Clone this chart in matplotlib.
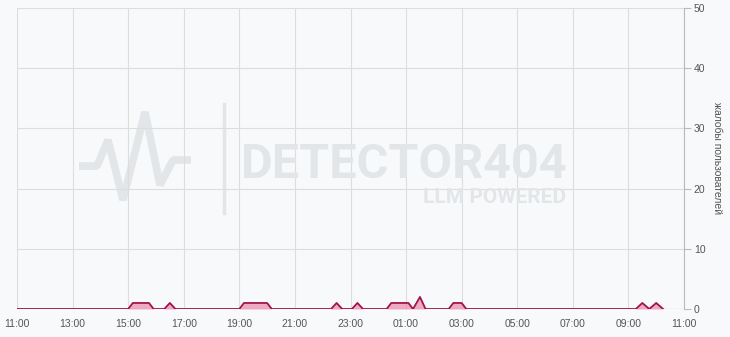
import matplotlib.pyplot as plt
import matplotlib.dates as mdates
from datetime import datetime, timedelta

# жалобы пользователей за последние сутки (время, количество)
times = ["11:00",
         "15:00", "15:10", "15:45", "15:55",
         "16:18", "16:30", "16:42",
         "19:00", "19:10", "20:00", "20:10",
         "22:18", "22:30", "22:42",
         "23:03", "23:15", "23:27",
         "00:18", "00:28", "01:05", "01:15", "01:30", "01:42",
         "02:32", "02:42", "03:00", "03:10",
         "09:16", "09:30", "09:45", "10:00", "10:15"]
counts = [0,
          0, 1, 1, 0,
          0, 1, 0,
          0, 1, 1, 0,
          0, 1, 0,
          0, 1, 0,
          0, 1, 1, 0, 2, 0,
          0, 1, 1, 0,
          0, 1, 0, 1, 0]

y_ticks = [0, 10, 20, 30, 40, 50]
y_label = "жалобы пользователей"

start = datetime(2024, 1, 1, 11, 0)
end = start + timedelta(hours=24)


def to_dt(s):
    h, m = map(int, s.split(":"))
    d = start.replace(hour=h, minute=m)
    if d < start:
        d += timedelta(days=1)
    return d


x = [to_dt(t) for t in times]

bg = "#f8f9fa"
fig = plt.figure(figsize=(7.3, 3.37), dpi=100, facecolor=bg)
ax = fig.add_axes([17 / 730, 1 - 309 / 337, 667 / 730, 301 / 337])
ax.set_facecolor(bg)

# водяной знак
wm = "#e3e6e9"
pulse_x = [79, 97, 108, 123, 145, 160, 173, 191]
pulse_y = [166, 166, 140, 200, 112, 185, 160, 160]
fig.add_artist(plt.Line2D([px / 730 for px in pulse_x], [1 - py / 337 for py in pulse_y],
                          transform=fig.transFigure, color=wm, lw=5.5,
                          solid_joinstyle="bevel", solid_capstyle="butt", zorder=0))
fig.add_artist(plt.Line2D([224 / 730, 224 / 730], [1 - 104 / 337, 1 - 213 / 337],
                          transform=fig.transFigure, color=wm, lw=2.5, zorder=0))
fig.text(567 / 730, 1 - 178 / 337, "DETECTOR404", ha="right", va="baseline",
         fontsize=35, fontweight="bold", family="Roboto", color=wm, zorder=0)
fig.text(566 / 730, 1 - 203 / 337, "LLM POWERED", ha="right", va="baseline",
         fontsize=15, fontweight="bold", family="Roboto", color=wm, zorder=0)
ax.patch.set_alpha(0)

ax.fill_between(x, counts, 0, color="#e8769f", alpha=0.6, lw=0, zorder=2)
ax.plot(x, counts, color="#a3124c", lw=1.3, zorder=3)

ax.set_xlim(start, end)
ax.set_ylim(0, 50)
ax.set_yticks(y_ticks)
ax.xaxis.set_major_locator(mdates.HourLocator(byhour=range(1, 24, 2)))
ax.xaxis.set_major_formatter(mdates.DateFormatter("%H:%M"))

ax.yaxis.tick_right()
ax.yaxis.set_label_position("right")
ax.set_ylabel(y_label, rotation=270, labelpad=12, fontsize=7.5,
              family="Liberation Sans", color="#555555")

ax.grid(True, color="#dddddd", lw=0.8)
ax.set_axisbelow(True)
for s in ["top", "left", "bottom"]:
    ax.spines[s].set_visible(False)
ax.spines["right"].set_color("#bbbbbb")
ax.axhline(0, color="#cccccc", lw=0.8, zorder=1)

ax.tick_params(axis="x", length=0, pad=7, labelsize=7.5, labelcolor="#555555")
ax.tick_params(axis="y", length=5, color="#bbbbbb", pad=2, labelsize=7.5,
               labelcolor="#555555")
for lab in ax.get_xticklabels() + ax.get_yticklabels():
    lab.set_family("Liberation Sans")

plt.savefig("out.png", dpi=100, facecolor=bg)
